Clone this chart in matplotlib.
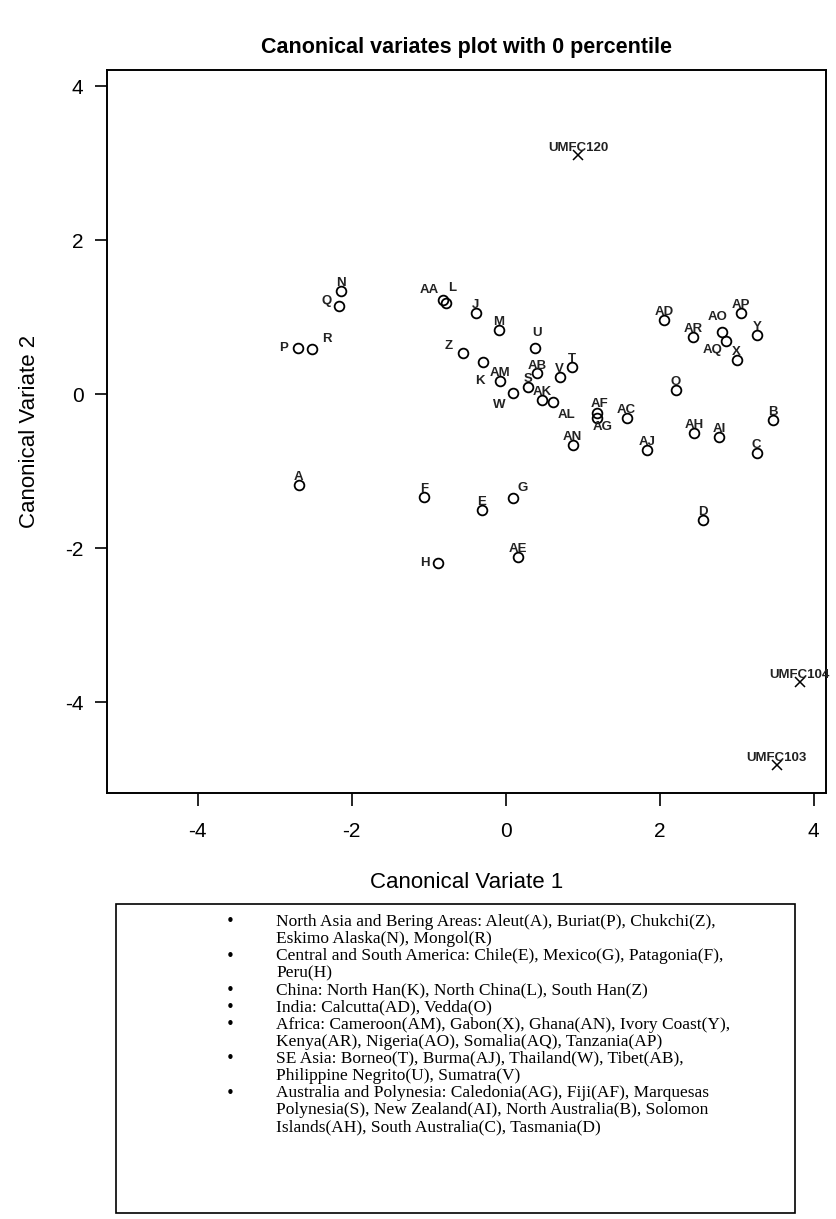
import matplotlib
matplotlib.use("Agg")
import matplotlib.pyplot as plt
from matplotlib.patches import Rectangle

plt.rcParams['font.family'] = ['Liberation Sans', 'DejaVu Sans']
plt.rcParams['axes.unicode_minus'] = False

# group scores on the first two canonical variates
labels = ['A', 'P', 'R', 'N', 'Q', 'AA', 'L', 'J', 'M', 'Z', 'K', 'AM', 'W',
          'U', 'AB', 'S', 'AK', 'AL', 'V', 'T', 'AF', 'AG', 'AC', 'AN', 'AJ',
          'AD', 'AR', 'AO', 'AQ', 'AP', 'Y', 'X', 'O', 'AH', 'AI', 'B', 'C',
          'D', 'F', 'E', 'G', 'H', 'AE']
cv1 = [-2.69, -2.70, -2.52, -2.14, -2.17, -0.82, -0.77, -0.39, -0.09, -0.56,
       -0.30, -0.08, 0.09, 0.38, 0.41, 0.29, 0.47, 0.61, 0.70, 0.86, 1.18,
       1.19, 1.57, 0.87, 1.83, 2.06, 2.43, 2.81, 2.86, 3.06, 3.26, 3.00,
       2.21, 2.45, 2.77, 3.47, 3.26, 2.56, -1.06, -0.31, 0.10, -0.88, 0.16]
cv2 = [-1.18, 0.60, 0.58, 1.34, 1.14, 1.22, 1.18, 1.06, 0.83, 0.53, 0.42,
       0.17, 0.01, 0.60, 0.27, 0.09, -0.08, -0.10, 0.22, 0.35, -0.25, -0.31,
       -0.31, -0.66, -0.73, 0.96, 0.74, 0.81, 0.69, 1.06, 0.77, 0.44, 0.05,
       -0.51, -0.56, -0.34, -0.77, -1.64, -1.34, -1.51, -1.35, -2.19, -2.12]

# unknown specimens
spec_labels = ['UMFC120', 'UMFC104', 'UMFC103']
spec_cv1 = [0.94, 3.82, 3.52]
spec_cv2 = [3.10, -3.74, -4.82]

legend_items = [
    ["North Asia and Bering Areas: Aleut(A), Buriat(P), Chukchi(Z),",
     "Eskimo Alaska(N), Mongol(R)"],
    ["Central and South America: Chile(E), Mexico(G), Patagonia(F),",
     "Peru(H)"],
    ["China: North Han(K), North China(L), South Han(Z)"],
    ["India: Calcutta(AD), Vedda(O)"],
    ["Africa: Cameroon(AM), Gabon(X), Ghana(AN), Ivory Coast(Y),",
     "Kenya(AR), Nigeria(AO), Somalia(AQ), Tanzania(AP)"],
    ["SE Asia: Borneo(T), Burma(AJ), Thailand(W), Tibet(AB),",
     "Philippine Negrito(U), Sumatra(V)"],
    ["Australia and Polynesia: Caledonia(AG), Fiji(AF), Marquesas",
     "Polynesia(S), New Zealand(AI), North Australia(B), Solomon",
     "Islands(AH), South Australia(C), Tasmania(D)"],
]

# label offsets in pixels (dx right, dy up) where the default "above" is not used
label_shift = {
    'Q': (-12, 5), 'P': (-14, 0), 'R': (15, 10), 'AA': (-13, 10),
    'L': (6, 15), 'Z': (-14, 7), 'K': (-3, -19), 'W': (-13, -12),
    'AQ': (-13, -9), 'AO': (-4, 15), 'G': (9, 10), 'H': (-13, 0),
    'AL': (14, -13), 'AG': (5, -9), 'AF': (3, 9), 'U': (2, 15),
    'AB': (0, 7),
}
px = 72 / 100

fig = plt.figure(figsize=(8.37, 12.19), dpi=100)
ax = fig.add_axes([107 / 837, 1 - 793 / 1219, 719 / 837, 723 / 1219])

ax.plot(cv1, cv2, 'o', ms=7, mfc='none', mec='black', mew=1.3)
ax.plot(spec_cv1, spec_cv2, 'x', ms=7, color='black', mew=1.1)

for lab, x, y in zip(labels, cv1, cv2):
    dx, dy = label_shift.get(lab, (0, 8))
    ax.annotate(lab, (x, y), xytext=(dx * px, dy * px), textcoords='offset points',
                ha='center', va='center', fontsize=9.5, fontweight='bold',
                color='#222222')
for lab, x, y in zip(spec_labels, spec_cv1, spec_cv2):
    ax.annotate(lab, (x, y), xytext=(0, 7 * px), textcoords='offset points',
                ha='center', va='center', fontsize=9.5, fontweight='bold',
                color='#222222')

ax.set_xlim(-5.18, 4.16)
ax.set_ylim(-5.18, 4.21)
ax.set_xticks([-4, -2, 0, 2, 4])
ax.set_yticks([-4, -2, 0, 2, 4])
ax.tick_params(direction='out', length=9, width=1.2, labelsize=15, pad=12)
ax.tick_params(axis='y', pad=8)
for sp in ax.spines.values():
    sp.set_linewidth(1.4)

ax.set_xlabel('Canonical Variate 1', fontsize=16, labelpad=22)
ax.set_ylabel('Canonical Variate 2', fontsize=16, labelpad=18)
ax.set_title('Canonical variates plot with 0 percentile', fontsize=15.5,
             fontweight='bold', pad=12)

# group key in a box under the plot
fig.add_artist(Rectangle((116 / 837, 1 - 1213 / 1219), 679 / 837, 309 / 1219,
                         transform=fig.transFigure, fill=False, ec='black', lw=1.2))
row = 0
for item in legend_items:
    for i, line in enumerate(item):
        ypos = 1 - (922 + 17.1 * row) / 1219
        if i == 0:
            fig.text(230 / 837, ypos, '\u2022', family='DejaVu Sans',
                     fontsize=11, ha='center', va='center')
        fig.text(276 / 837, ypos, line, family='Liberation Serif',
                 fontsize=12.5, ha='left', va='center')
        row += 1

fig.savefig('out.png', dpi=100)
